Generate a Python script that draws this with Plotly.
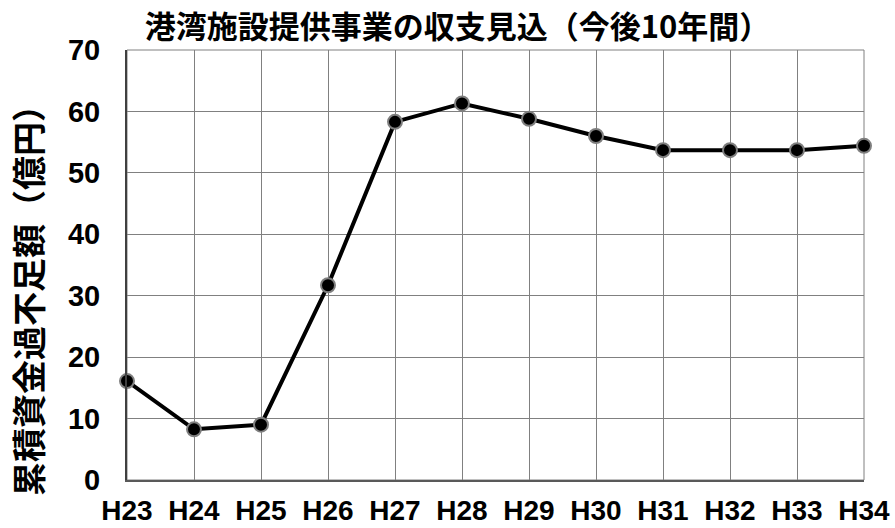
import plotly.graph_objects as go

years = ["H23", "H24", "H25", "H26", "H27", "H28", "H29", "H30", "H31", "H32", "H33", "H34"]
balance = [16.1, 8.25, 9.0, 31.7, 58.3, 61.3, 58.8, 56.0, 53.7, 53.7, 53.7, 54.4]
y_ticks = [0, 10, 20, 30, 40, 50, 60, 70]
title_text = "港湾施設提供事業の収支見込（今後10年間）"
y_title = "累積資金過不足額（億円）"

tick_family = "Liberation Sans, Arial"

fig = go.Figure()
fig.add_trace(go.Scatter(
    x=years, y=balance, mode="lines+markers",
    line=dict(color="black", width=4),
    marker=dict(size=14, color="black", line=dict(color="#7f7f7f", width=2)),
    showlegend=False, cliponaxis=False,
))

fig.update_layout(
    width=895, height=528,
    margin=dict(l=127, r=31, t=50, b=48),
    paper_bgcolor="white", plot_bgcolor="white",
    title=dict(text="<b>" + title_text + "</b>", x=0.5 + 10 / 895, xanchor="center",
               y=1 - 27 / 528, yanchor="middle",
               font=dict(family="Noto Sans CJK JP", size=31, color="black")),
    annotations=[dict(
        text="<b>" + y_title + "</b>", textangle=-90,
        xref="paper", yref="paper", x=(27 - 127) / 737, y=(480 - 292) / 430,
        xanchor="center", yanchor="middle",
        showarrow=False, font=dict(family="Noto Sans CJK JP", size=34, color="black"),
    )],
)
fig.update_xaxes(
    type="category", categoryorder="array", categoryarray=years,
    range=[0, len(years) - 1], automargin=False,
    showgrid=True, gridcolor="#808080", gridwidth=1,
    showline=True, linecolor="#595959", linewidth=2,
    ticks="outside", ticklen=4, tickcolor="rgba(0,0,0,0)",
    tickfont=dict(family=tick_family, size=28, color="black", weight="bold"),
    zeroline=False,
)
fig.update_yaxes(
    range=[0, 70], tickvals=y_ticks, automargin=False,
    showgrid=True, gridcolor="#808080", gridwidth=1,
    showline=True, linecolor="#404040", linewidth=2,
    ticks="outside", ticklen=19, tickcolor="rgba(0,0,0,0)",
    tickfont=dict(family=tick_family, size=29, color="black", weight="bold"),
    zeroline=False,
)
fig.add_shape(type="rect", xref="paper", yref="paper", x0=0, y0=0, x1=1, y1=1,
              line=dict(color="#808080", width=1), layer="below")

fig.write_html("out.html", config={"displayModeBar": False},
               post_script="document.body.style.margin='0';")
